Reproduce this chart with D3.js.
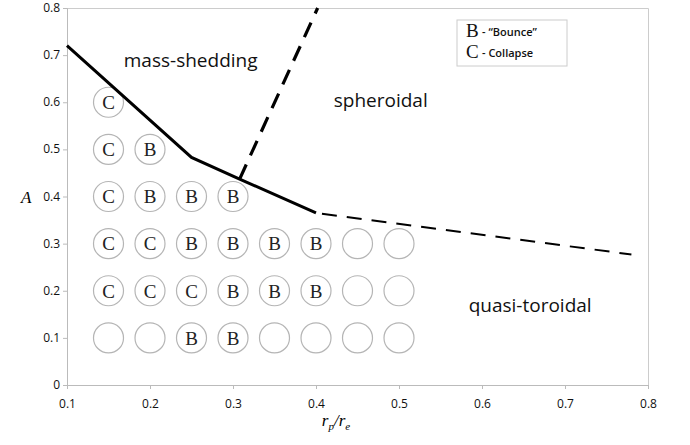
<!DOCTYPE html>
<html>
<head>
<meta charset="utf-8">
<script src="https://d3js.org/d3.v7.min.js"></script>
<style>
  body { margin: 0; background: #fff; }
  .tick text { font-family: "Open Sans", "DejaVu Sans", sans-serif; font-size: 12px; fill: #111; }
  .tick line, .domain { stroke: #bbb; }
</style>
</head>
<body>
<svg id="chart" width="690" height="445"></svg>
<script>
// grid of runs: x = rp/re, rows = A
var xVals = [0.15, 0.2, 0.25, 0.3, 0.35, 0.4, 0.45, 0.5];
var aVals = [0.6, 0.5, 0.4, 0.3, 0.2, 0.1];
var outcomes = [
  ["C"],
  ["C", "B"],
  ["C", "B", "B", "B"],
  ["C", "C", "B", "B", "B", "B", "", ""],
  ["C", "C", "C", "B", "B", "B", "", ""],
  ["", "", "B", "B", "", "", "", ""]
];
// boundary curves
var massShed = [[0.1, 0.72], [0.25, 0.483], [0.308, 0.437], [0.4, 0.365]];
var toroidal = [[0.4, 0.365], [0.78, 0.277]];
var spheroid = [[0.308, 0.437], [0.402, 0.8]];
var xTicks = [0.1, 0.2, 0.3, 0.4, 0.5, 0.6, 0.7, 0.8];
var yTicks = [0, 0.1, 0.2, 0.3, 0.4, 0.5, 0.6, 0.7, 0.8];
var regions = [
  {text: "mass-shedding", x: 0.249, y: 0.675},
  {text: "spheroidal", x: 0.478, y: 0.59},
  {text: "quasi-toroidal", x: 0.658, y: 0.155}
];
var legendItems = [["B", "- \u201CBounce\u201D"], ["C", "- Collapse"]];

var svg = d3.select("#chart"),
    margin = {top: 8, right: 42, bottom: 60, left: 67},
    width = +svg.attr("width") - margin.left - margin.right,
    height = +svg.attr("height") - margin.top - margin.bottom,
    g = svg.append("g").attr("transform", "translate(" + margin.left + "," + margin.top + ")");

var x = d3.scaleLinear().domain([0.1, 0.8]).range([0, width]);
var y = d3.scaleLinear().domain([0, 0.8]).range([height, 0]);

// frame top/right
g.append("path")
    .attr("d", "M0,0.5H" + (width + 0.5) + "V" + height)
    .attr("fill", "none")
    .attr("stroke", "#ccc");

g.append("g")
    .attr("transform", "translate(0," + height + ")")
    .call(d3.axisBottom(x).tickValues(xTicks).tickSize(4).tickFormat(d3.format("~g")))
    .call(function(a) { a.selectAll(".tick text").attr("dy", "1.3em"); });

g.append("g")
    .call(d3.axisLeft(y).tickValues(yTicks).tickSize(4).tickFormat(d3.format("~g")))
    .call(function(a) { a.selectAll(".tick text").attr("x", -7).attr("dy", "0.3em"); });

// circles
var cells = [];
outcomes.forEach(function(row, i) {
  row.forEach(function(c, j) { cells.push({x: xVals[j], a: aVals[i], c: c}); });
});

var cell = g.append("g").selectAll("g")
    .data(cells)
    .enter().append("g")
    .attr("transform", function(d) { return "translate(" + x(d.x) + "," + y(d.a) + ")"; });

cell.append("circle")
    .attr("r", 15)
    .attr("fill", "#fff")
    .attr("stroke", "#b5b5b5")
    .attr("stroke-width", 1.2);

cell.append("text")
    .attr("text-anchor", "middle")
    .attr("dy", "0.36em")
    .attr("font-family", "Liberation Serif, DejaVu Serif, serif")
    .attr("font-size", 19)
    .attr("fill", "#222")
    .text(function(d) { return d.c; });

// boundaries
var line = d3.line().x(function(d) { return x(d[0]); }).y(function(d) { return y(d[1]); });

g.append("path").datum(massShed)
    .attr("d", line).attr("fill", "none").attr("stroke", "#000").attr("stroke-width", 3);
g.append("path").datum(spheroid)
    .attr("d", line).attr("fill", "none").attr("stroke", "#000").attr("stroke-width", 3.2)
    .attr("stroke-dasharray", "16,10");
g.append("path").datum(toroidal)
    .attr("d", line).attr("fill", "none").attr("stroke", "#000").attr("stroke-width", 2)
    .attr("stroke-dasharray", "15,10").attr("stroke-dashoffset", -6);

// region labels
g.append("g").selectAll("text")
    .data(regions)
    .enter().append("text")
    .attr("x", function(d) { return x(d.x); })
    .attr("y", function(d) { return y(d.y); })
    .attr("text-anchor", "middle")
    .attr("font-family", "Open Sans, DejaVu Sans, sans-serif")
    .attr("font-size", 19)
    .attr("fill", "#111")
    .text(function(d) { return d.text; });

// legend
var lg = svg.append("g").attr("transform", "translate(457,20)");
lg.append("rect")
    .attr("width", 110).attr("height", 46)
    .attr("fill", "#fff").attr("stroke", "#ccc");
var li = lg.selectAll("g.item")
    .data(legendItems)
    .enter().append("g")
    .attr("transform", function(d, i) { return "translate(9," + (17 + i * 21) + ")"; });
li.append("text")
    .attr("font-family", "Liberation Serif, DejaVu Serif, serif")
    .attr("font-size", 19)
    .attr("fill", "#111")
    .text(function(d) { return d[0]; });
li.append("text")
    .attr("x", 16).attr("y", -1)
    .attr("font-family", "Open Sans, DejaVu Sans, sans-serif")
    .attr("font-size", 11)
    .attr("font-weight", 600)
    .attr("fill", "#111")
    .text(function(d) { return d[1]; });

// axis titles
svg.append("text")
    .attr("x", 21).attr("y", 203)
    .attr("font-family", "Liberation Serif, DejaVu Serif, serif")
    .attr("font-style", "italic")
    .attr("font-size", 17)
    .text("A");

var xt = svg.append("text")
    .attr("x", 336).attr("y", 426)
    .attr("text-anchor", "middle")
    .attr("font-family", "Liberation Serif, DejaVu Serif, serif")
    .attr("font-style", "italic")
    .attr("font-size", 17);
xt.append("tspan").text("r");
xt.append("tspan").attr("font-size", 11).attr("dy", 4).text("p");
xt.append("tspan").attr("dy", -4).text("/r");
xt.append("tspan").attr("font-size", 11).attr("dy", 4).text("e");
</script>
</body>
</html>
